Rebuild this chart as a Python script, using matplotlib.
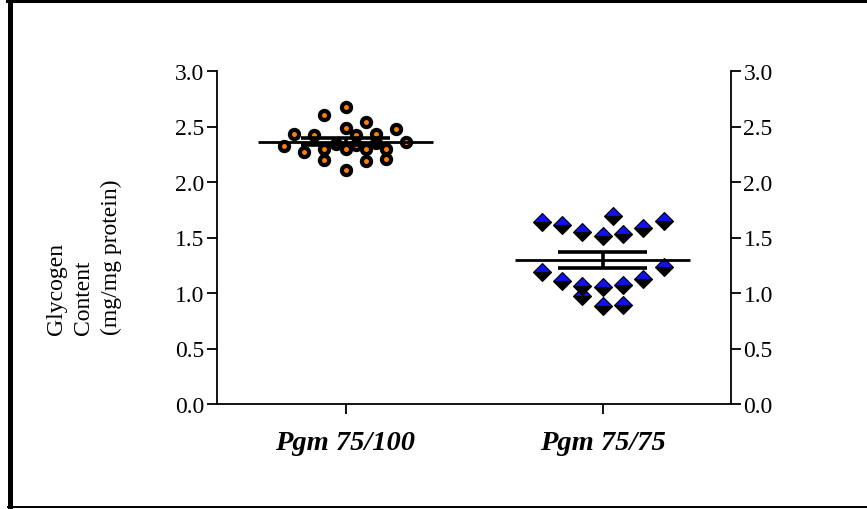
import numpy as np
import matplotlib.pyplot as plt
from matplotlib.lines import Line2D

plt.rcParams['font.family'] = ['Liberation Serif', 'DejaVu Serif']

groups = ["Pgm 75/100", "Pgm 75/75"]

# glycogen content (mg/mg protein)
g1_vals = [2.32, 2.43, 2.27, 2.42, 2.60, 2.30, 2.20, 2.68, 2.49, 2.30, 2.11,
           2.42, 2.54, 2.30, 2.19, 2.43, 2.30, 2.21, 2.48, 2.36, 2.34, 2.33, 2.35]
g1_off = [-62, -52, -42, -32, -22, -22, -22, 0, 0, 0, 0,
          10, 20, 20, 20, 30, 40, 40, 50, 60, -10, 10, 30]

g2_vals = [1.64, 1.61, 1.55, 1.51, 1.69, 1.53, 1.59, 1.65,
           1.19, 1.11, 1.06, 0.97, 1.05, 0.88, 1.07, 0.89, 1.13, 1.23]
g2_off = [-61, -41, -21, 0, 10, 20, 40, 61,
          -61, -41, -21, -21, 0, 0, 20, 20, 40, 61]

fig = plt.figure(figsize=(8.67, 5.10), dpi=100)
ax = fig.add_axes([217/867, 1-405/510, (731-217)/867, (405-72)/510])

px = 257.0  # pixels per category unit

ax.plot(1 + np.array(g1_off)/px, g1_vals, 'o', ms=6.6, mfc='#FF8000', mec='black',
        mew=3.0, ls='none', zorder=2)
ax.plot(2 + np.array(g2_off)/px, g2_vals, 'D', ms=9.3, fillstyle='top', mfc='#1010F0',
        mfcalt='black', mec='black', mew=0.8, ls='none', zorder=2)

for i, vals in enumerate([g1_vals, g2_vals]):
    c = i + 1
    v = np.array(vals)
    m = v.mean()
    sem = v.std(ddof=1) / np.sqrt(len(v))
    ax.hlines(m, c - 0.34, c + 0.34, color='black', lw=2.0, zorder=3)
    ax.hlines([m - sem, m + sem], c - 0.175, c + 0.175, color='black', lw=2.6, zorder=3)
    ax.vlines(c, m - sem, m + sem, color='black', lw=2.6, zorder=3)

ax.set_xlim(0.5, 2.5)
ax.set_ylim(0, 3.0)
ax.set_yticks(np.arange(0, 3.01, 0.5))
ax.set_yticklabels([f"{t:.1f}" for t in np.arange(0, 3.01, 0.5)])
ax.set_xticks([1, 2])
ax.set_xticklabels(groups, fontsize=20.5, fontweight='bold', fontstyle='italic')

ax.spines['top'].set_visible(False)
for s in ['left', 'right', 'bottom']:
    ax.spines[s].set_linewidth(1.3)
ax.tick_params(axis='y', which='both', left=True, right=True, labelleft=True,
               labelright=True, length=7.5, width=1.3, pad=1.5, labelsize=17, direction='out')
ax.tick_params(axis='x', length=7, width=1.3, pad=12, direction='out')

fig.text(84/867, 1-335/510, "Glycogen\nContent\n(mg/mg protein)", rotation=90,
         ha='center', va='bottom', multialignment='left', fontsize=17, linespacing=1.42)

# outer frame
fig.add_artist(Line2D([8/867, 1], [1-2/510, 1-2/510], color='black', lw=2.9, transform=fig.transFigure))
fig.add_artist(Line2D([9.5/867, 9.5/867], [0, 1], color='black', lw=3.6, transform=fig.transFigure))
fig.add_artist(Line2D([8/867, 1], [1-508/510, 1-508/510], color='black', lw=1.4, transform=fig.transFigure))

fig.savefig("out.png", dpi=100)
